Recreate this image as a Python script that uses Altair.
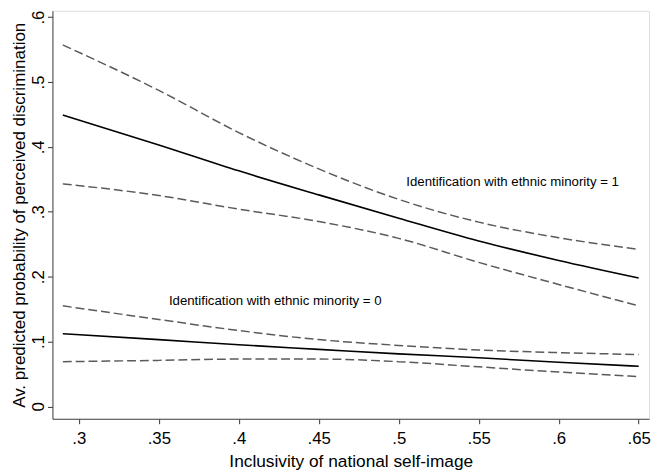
import altair as alt
import pandas as pd

# x grid (inclusivity of national self-image)
x_vals = [0.29, 0.35, 0.40, 0.45, 0.50, 0.55, 0.60, 0.65]

# Identification with ethnic minority = 1
g1_est = [0.449, 0.403, 0.363, 0.326, 0.290, 0.255, 0.225, 0.198]
g1_hi = [0.557, 0.487, 0.422, 0.366, 0.319, 0.284, 0.260, 0.242]
g1_lo = [0.343, 0.325, 0.304, 0.285, 0.259, 0.222, 0.188, 0.155]

# Identification with ethnic minority = 0
g0_est = [0.112, 0.103, 0.095, 0.088, 0.081, 0.075, 0.068, 0.062]
g0_hi = [0.155, 0.134, 0.117, 0.103, 0.094, 0.087, 0.083, 0.080]
g0_lo = [0.069, 0.071, 0.073, 0.073, 0.069, 0.061, 0.053, 0.046]

x_ticks = [0.3, 0.35, 0.4, 0.45, 0.5, 0.55, 0.6, 0.65]
y_ticks = [0, 0.1, 0.2, 0.3, 0.4, 0.5, 0.6]

label_text = ["Identification with ethnic minority = 1", "Identification with ethnic minority = 0"]
label_x = [0.5047, 0.3563]
label_y = [0.346, 0.162]

rows = []
for name, kind, vals in [
    ("g1_est", "est", g1_est), ("g1_hi", "ci", g1_hi), ("g1_lo", "ci", g1_lo),
    ("g0_est", "est", g0_est), ("g0_hi", "ci", g0_hi), ("g0_lo", "ci", g0_lo),
]:
    for xv, yv in zip(x_vals, vals):
        rows.append({"x": xv, "y": yv, "series": name, "kind": kind})
df = pd.DataFrame(rows)
lab = pd.DataFrame({"x": label_x, "y": label_y, "text": label_text})

FONT = "Liberation Sans"
lbl = "datum.value == 0 ? '0' : substring(format(datum.value, '.2~f'), 1)"

xscale = alt.Scale(domain=[0.2835, 0.6565], nice=False, zero=False)
yscale = alt.Scale(domain=[-0.019, 0.6096], nice=False, zero=False)

xenc = alt.X("x:Q", scale=xscale,
             axis=alt.Axis(values=x_ticks, labelExpr=lbl, grid=False, tickSize=5,
                           title="Inclusivity of national self-image",
                           labelFontSize=17, titleFontSize=17.5, labelPadding=7,
                           titlePadding=6, labelFont=FONT, titleFont=FONT,
                           labelColor="black", titleColor="black",
                           tickColor="#333", domainColor="#444", titleFontWeight="normal"))
yenc = alt.Y("y:Q", scale=yscale,
             axis=alt.Axis(values=y_ticks, labelExpr=lbl, grid=False, tickSize=5,
                           title="Av. predicted probability of perceived discrimination",
                           labelAngle=270, labelFontSize=17, titleFontSize=17.2,
                           labelPadding=0, titlePadding=1, labelFont=FONT, titleFont=FONT,
                           labelColor="black", titleColor="black",
                           tickColor="#333", domainColor="#444", titleFontWeight="normal"))

base = alt.Chart(df)
est = base.transform_filter(alt.datum.kind == "est").mark_line(
    color="black", strokeWidth=1.6, interpolate="monotone"
).encode(x=xenc, y=yenc, detail="series:N")
ci = base.transform_filter(alt.datum.kind == "ci").mark_line(
    color="#5a5a5a", strokeWidth=1.5, strokeDash=[9, 4], interpolate="monotone"
).encode(x=xenc, y=yenc, detail="series:N")
txt = alt.Chart(lab).mark_text(
    align="left", baseline="middle", fontSize=13.4, font=FONT, color="black"
).encode(x=alt.X("x:Q", scale=xscale), y=alt.Y("y:Q", scale=yscale), text="text:N")

chart = alt.layer(ci, est, txt).properties(
    width=604, height=413,
    autosize=alt.AutoSizeParams(type="none"),
    padding={"left": 45, "top": 0, "right": 5, "bottom": 50},
).configure_view(stroke="#666", strokeWidth=1.5).configure(background="white")

chart.save("out.html", embed_options={"renderer": "svg", "actions": False})
